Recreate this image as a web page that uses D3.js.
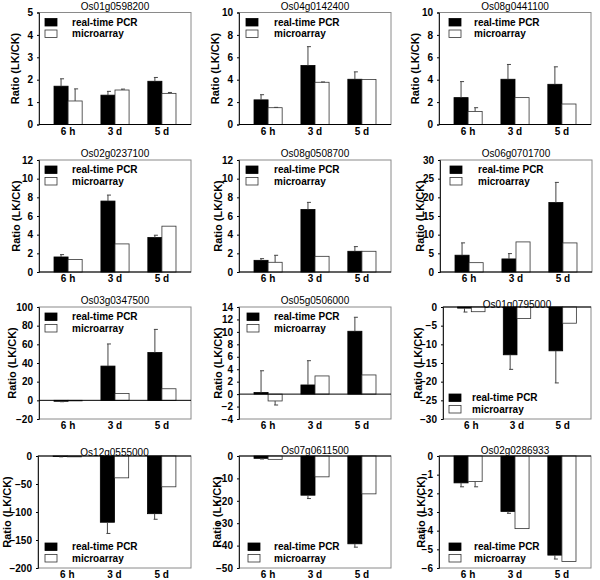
<!DOCTYPE html>
<html><head><meta charset="utf-8">
<script src="https://cdn.jsdelivr.net/npm/d3@7"></script>
<style>
body{margin:0;background:#fff;}
text{font-family:"Liberation Sans",Arial,sans-serif;}
</style></head>
<body><svg id="c" width="600" height="580"></svg>
<script>
const categories = ["6 h", "3 d", "5 d"];
const seriesNames = ["real-time PCR", "microarray"];
const genes = ["Os01g0598200","Os04g0142400","Os08g0441100",
               "Os02g0237100","Os08g0508700","Os06g0701700",
               "Os03g0347500","Os05g0506000","Os01g0795000",
               "Os12g0555000","Os07g0611500","Os02g0286933"];
const pcr = [[1.71,1.31,1.93],[2.2,5.27,4.04],[2.4,4.04,3.59],
             [1.61,7.6,3.69],[1.25,6.7,2.22],[4.5,3.5,18.6],
             [-1.0,36.7,51.2],[0.25,1.47,10.1],[-0.3,-12.8,-11.74],
             [-1.0,-118.3,-103],[-1.04,-17.5,-39.2],[-1.44,-2.97,-5.31]];
const pcrErr = [[0.33,0.17,0.17],[0.46,1.68,0.66],[1.43,1.32,1.56],
                [0.25,0.64,0.25],[0.18,0.76,0.5],[3.3,1.43,5.4],
                [0.5,23.7,24.8],[3.5,3.9,2.25],[1.05,3.9,8.6],
                [0.5,20,10],[0.3,1.5,1.5],[0.21,0.1,0.21]];
const micro = [[1.05,1.54,1.39],[1.5,3.77,4.01],[1.17,2.4,1.83],
               [1.33,3.01,4.91],[1.04,1.68,2.22],[2.5,8.06,7.79],
               [-0.6,7.4,12.4],[-1.1,2.92,3.08],[-1.26,-3.07,-4.34],
               [-1.5,-39,-55],[-1.5,-9.3,-16.9],[-1.37,-3.89,-5.65]];
const microErr = [[0.54,0.04,0.04],[0.03,0.03,0],[0.33,0,0],
                  [0,0,0],[0.75,0,0],[0,0,0],
                  [0,0,0],[0.65,0,0],[0,0,0],
                  [0,0,0],[0,0,0],[0.28,0,0]];
const yDomains = [[0,5],[0,10],[0,10],[0,12],[0,12],[0,30],
                  [-20,100],[-4,14],[-30,0],[-200,0],[-50,0],[-6,0]];
const yTickSteps = [1,2,2,2,2,5,20,2,5,50,10,1];
const legendAtBottom = [false,false,false,false,false,false,false,false,true,true,true,true];

// layout
const boxLeft = [39,239,439, 39,239,440, 39,239,443, 38,239,439];
const boxRight = [191,391,591, 191,391,592, 191,391,591, 191,391,591];
const rowTop = [12.5, 160, 307, 456];
const H = 112;
const legSwX = [45,246,449, 45,246,450, 45,247,449, 45,248,449];
const legTxX = [72,274,474, 72,274,478, 72,274,472, 72,274,474];
const yLabX = [15,215,415, 16,218,420, 12,218,418, 7,217,421];
const titleDy = [-3,-3,-3,-3,-3,-3,-3,-3,1,0,-2,-2];

const svg = d3.select("#c");

genes.forEach((g, i) => {
  const row = Math.floor(i / 3);
  const L = boxLeft[i], T = rowTop[row], W = boxRight[i] - boxLeft[i];
  const gp = svg.append("g").attr("transform", `translate(${L},${T})`);

  const x0 = d3.scaleBand().domain(categories).range([0, W]).paddingInner(0.4).paddingOuter(0.32);
  const x1 = d3.scaleBand().domain(seriesNames).range([0, x0.bandwidth()]);
  const y = d3.scaleLinear().domain(yDomains[i]).range([H, 0]);
  const ticks = d3.range(yDomains[i][0], yDomains[i][1] + yTickSteps[i] / 2, yTickSteps[i]);

  // frame
  gp.append("rect").attr("x", 0).attr("y", 0).attr("width", W).attr("height", H)
    .attr("fill", "none").attr("stroke", "#8a8a8a").attr("stroke-width", 1);

  // y axis
  const ya = gp.append("g").call(d3.axisLeft(y).tickValues(ticks).tickSize(2).tickPadding(4)
    .tickFormat(d3.format("d")));
  ya.select(".domain").attr("stroke", "#222");
  ya.selectAll("text").attr("font-size", 10).attr("font-weight", "bold").attr("fill", "#000");

  // x labels
  const xa = gp.append("g").attr("transform", `translate(0,${H})`)
    .call(d3.axisBottom(x0).tickSize(0).tickPadding(3));
  xa.select(".domain").remove();
  xa.selectAll("text").attr("font-size", 10).attr("font-weight", "bold").attr("fill", "#000");

  // bars
  const data = categories.map((c, k) => [
    {c, s: seriesNames[0], v: pcr[i][k], e: pcrErr[i][k]},
    {c, s: seriesNames[1], v: micro[i][k], e: microErr[i][k]}
  ]).flat();

  gp.selectAll("rect.bar").data(data).enter().append("rect").attr("class", "bar")
    .attr("x", d => x0(d.c) + x1(d.s))
    .attr("width", x1.bandwidth())
    .attr("y", d => y(Math.max(0, d.v)))
    .attr("height", d => Math.abs(y(d.v) - y(0)))
    .attr("fill", d => d.s === seriesNames[0] ? "#000" : "#fff")
    .attr("stroke", d => d.s === seriesNames[0] ? "#000" : "#333")
    .attr("stroke-width", 0.8);

  // error bars
  const eb = data.filter(d => d.e > 0);
  const ex = d => x0(d.c) + x1(d.s) + x1.bandwidth() / 2;
  const ey = d => y(d.v + (d.v >= 0 ? d.e : -d.e));
  gp.selectAll("line.err").data(eb).enter().append("line").attr("class", "err")
    .attr("x1", ex).attr("x2", ex).attr("y1", d => y(d.v)).attr("y2", ey)
    .attr("stroke", "#444").attr("stroke-width", 1);
  gp.selectAll("line.cap").data(eb).enter().append("line").attr("class", "cap")
    .attr("x1", d => ex(d) - 1).attr("x2", d => ex(d) + 3).attr("y1", ey).attr("y2", ey)
    .attr("stroke", "#444").attr("stroke-width", 1);

  // zero line
  gp.append("line").attr("x1", 0).attr("x2", W).attr("y1", y(0)).attr("y2", y(0))
    .attr("stroke", "#000").attr("stroke-width", 1);

  // title
  gp.append("text").attr("x", W / 2).attr("y", titleDy[i]).attr("text-anchor", "middle")
    .attr("font-size", 10).attr("fill", "#000").text(g);

  // y label
  gp.append("text").attr("transform", `translate(${yLabX[i] - L},${H / 2}) rotate(-90)`)
    .attr("text-anchor", "middle").attr("dy", "0.35em")
    .attr("font-size", 11).attr("font-weight", "bold").attr("fill", "#000").text("Ratio (LK/CK)");

  // legend
  const ly0 = legendAtBottom[i] ? H - 25 : 6;
  seriesNames.forEach((s, k) => {
    const ly = ly0 + k * 11.5;
    gp.append("rect").attr("x", legSwX[i] - L).attr("y", ly).attr("width", 12).attr("height", 7.5)
      .attr("fill", k === 0 ? "#000" : "#fff").attr("stroke", k === 0 ? "#000" : "#333").attr("stroke-width", 0.8);
    gp.append("text").attr("x", legTxX[i] - L).attr("y", ly + 3.75).attr("dy", "0.35em")
      .attr("font-size", 10).attr("font-weight", "bold").attr("fill", "#000").text(s);
  });
});
</script></body></html>
